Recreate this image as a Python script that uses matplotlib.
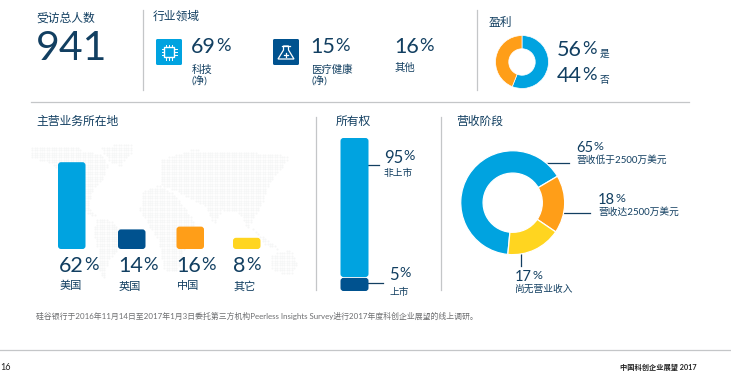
import numpy as np
import matplotlib
matplotlib.use('Agg')
import matplotlib.pyplot as plt
from matplotlib.patches import FancyBboxPatch, Rectangle, Polygon
from matplotlib.path import Path

W, H = 731, 376

total = '941'
sector_vals = [69, 15, 16]
sector_names = ['科技\n(净)', '医疗健康\n(净)', '其他']
profit_vals = [56, 44]
profit_names = ['是', '否']
location_names = ['美国', '英国', '中国', '其它']
location_vals = [62, 14, 16, 8]
owner_names = ['非上市', '上市']
owner_vals = [95, 5]
revenue_names = ['营收低于2500万美元', '营收达2500万美元', '尚无营业收入']
revenue_vals = [65, 18, 17]

BLUE = '#00a3e0'
DARK = '#00528f'
ORANGE = '#ff9e18'
YELLOW = '#ffd520'
NAVY = '#123f61'
GREY = '#c4c6c8'
FONT = ['Lato', 'Noto Sans CJK SC', 'DejaVu Sans']
plt.rcParams['font.family'] = FONT

fig = plt.figure(figsize=(W / 100, H / 100), dpi=100)


def px_axes(x0, y0, x1, y1):
    # axes placed by pixel box, y0 is the top edge
    a = fig.add_axes([x0 / W, 1 - y1 / H, (x1 - x0) / W, (y1 - y0) / H])
    a.axis('off')
    return a


ax = px_axes(0, 0, W, H)
ax.set_xlim(0, W)
ax.set_ylim(H, 0)

# faint dotted world map behind the location bars
land = [
    [(31, 147), (78, 147), (84, 152), (100, 153), (108, 165), (103, 178), (93, 190), (88, 205), (97, 218), (86, 212), (75, 200), (64, 180), (52, 163), (32, 158)],
    [(100, 147), (130, 143), (133, 152), (120, 166), (110, 162)],
    [(97, 219), (112, 220), (122, 232), (119, 248), (108, 262), (104, 280), (99, 270), (97, 245), (93, 230)],
    [(143, 190), (160, 185), (175, 195), (190, 215), (195, 225), (185, 245), (178, 270), (165, 272), (158, 240), (148, 225), (140, 210)],
    [(160, 160), (190, 150), (240, 151), (290, 156), (280, 170), (268, 185), (262, 205), (255, 215), (248, 228), (238, 212), (222, 210), (214, 225), (205, 205), (192, 200), (175, 190), (160, 185)],
    [(252, 228), (268, 240), (280, 250), (265, 245)],
    [(270, 255), (290, 250), (298, 265), (290, 275), (272, 270)],
]
gx, gy = np.meshgrid(np.arange(30, 300, 2.4), np.arange(143, 282, 2.4))
pts = np.column_stack([gx.ravel(), gy.ravel()])
mask = np.zeros(len(pts), dtype=bool)
for poly in land:
    mask |= Path(poly).contains_points(pts)
ax.scatter(pts[mask, 0], pts[mask, 1], s=2.2, color='#f5f6f6', linewidths=0, zorder=0)


def label(x, y, s, size=7.5, color=NAVY, **kw):
    return ax.text(x, y, s, fontsize=size, color=color, va=kw.pop('va', 'center'), **kw)


def pct(x, y, val, size=15.5):
    # number with the smaller, raised percent sign beside it
    t = ax.text(x, y, str(val), fontsize=size, color=NAVY, va='center', ha='left')
    ax.annotate('%', xy=(1, 0.97), xycoords=t, xytext=(0.3, 0), textcoords='offset points',
                fontsize=size * 0.85, color=NAVY, va='top', ha='left')


# rules
for x, y0, y1 in [(142.5, 10, 90), (477, 10, 90), (316, 117, 290), (441, 117, 290)]:
    ax.plot([x, x], [y0, y1], color=GREY, lw=0.9)
ax.plot([31, 689], [101.5, 101.5], color=GREY, lw=0.9)
ax.plot([0, W], [350, 350], color=GREY, lw=0.9)

# top row
label(36, 18, '受访总人数', 8.5)
label(36, 49, total, 29.5)
label(153, 16, '行业领域', 8.5)
label(489, 22, '盈利', 8.5)

ax.add_patch(FancyBboxPatch((156, 39), 26, 26, boxstyle='round,pad=0,rounding_size=1.5', fc=BLUE, ec='none'))
ax.add_patch(FancyBboxPatch((273, 39), 26, 26, boxstyle='round,pad=0,rounding_size=1.5', fc=DARK, ec='none'))
# chip icon
for k in [0, 1, 2]:
    ax.plot([161.5, 176.5], [48.8 + k * 3.2] * 2, color='white', lw=0.7, zorder=1)
    ax.plot([165.8 + k * 3.2] * 2, [44.5, 59.5], color='white', lw=0.7, zorder=1)
ax.add_patch(Rectangle((164, 47), 10, 10, fc=BLUE, ec='white', lw=1, zorder=2))
# flask icon
ax.add_patch(Polygon([(283.5, 46), (288.5, 46), (288.5, 50), (294, 59), (278, 59), (283.5, 50)], fc='none', ec='white', lw=0.9))
ax.plot([282, 290], [45.5, 45.5], color='white', lw=0.9)
ax.plot([284, 288], [54.5, 54.5], color='white', lw=0.9)
ax.plot([286, 286], [52.5, 56.5], color='white', lw=0.9)

for x, v, n in zip([191, 310, 394], sector_vals, sector_names):
    pct(x, 47, v)
    label(x + 1, 76 if '\n' in n else 68, n, 7.5, linespacing=1.15)

# profit donut
pa = px_axes(495, 35, 549, 89)
pa.pie(profit_vals, colors=[BLUE, ORANGE], startangle=90, counterclock=False, radius=1,
       wedgeprops=dict(width=0.5, ec='white', lw=0.5))
pa.set_xlim(-1.02, 1.02)
pa.set_ylim(-1.02, 1.02)
for y, v, n in zip([50, 76], profit_vals, profit_names):
    pct(557, y, v, 15.5)
    label(600, y + 4, n, 7)

# location bars
label(36, 121, '主营业务所在地', 8.5)
PX_PER_PCT = 1.4
bar_left = [58, 118, 176.5, 233]
bar_w = 27.5
ba = px_axes(50, 150, 270, 249)
ba.set_xlim(50, 270)
ba.set_ylim(0, 99 / PX_PER_PCT)
for x, v, c in zip(bar_left, location_vals, [BLUE, DARK, ORANGE, YELLOW]):
    ba.add_patch(FancyBboxPatch((x, 0), bar_w, v, boxstyle='round,pad=0,rounding_size=3',
                                mutation_aspect=1 / PX_PER_PCT, fc=c, ec='none'))
for x, v, n in zip([59, 118, 176, 233], location_vals, location_names):
    pct(x, 266, v, 15.5)
    label(x + 0.5, 286, n, 8)

# ownership stack
label(336, 121, '所有权', 8.5)
OWN_PX = 139 / owner_vals[0]
own_min = 14 / OWN_PX  # the small segment is drawn thicker than its share
oa = px_axes(335, 138, 375, 292)
oa.set_xlim(335, 375)
oa.set_ylim(154 / OWN_PX, 0)
oa.add_patch(FancyBboxPatch((340.5, 0), 28, owner_vals[0], boxstyle='round,pad=0,rounding_size=3',
                            mutation_aspect=1 / OWN_PX, fc=BLUE, ec='none'))
oa.add_patch(FancyBboxPatch((340.5, owner_vals[0] + 0.6), 28, max(owner_vals[1], own_min) - 0.6,
                            boxstyle='round,pad=0,rounding_size=3', mutation_aspect=1 / OWN_PX, fc=DARK, ec='none'))
ax.plot([358, 379], [165, 165], color=NAVY, lw=0.9, zorder=5)
ax.plot([368, 383], [283, 283], color=NAVY, lw=0.9, zorder=5)
pct(384, 158, owner_vals[0], 12)
label(384, 173, owner_names[0], 7)
pct(389, 275, owner_vals[1], 12)
label(389, 292, owner_names[1], 7)

# revenue donut
label(456, 121, '营收阶段', 8.5)
ra = px_axes(459.7, 149.7, 565.7, 255.7)
ra.pie(revenue_vals, colors=[BLUE, ORANGE, YELLOW], startangle=264.6, counterclock=False, radius=1,
       wedgeprops=dict(width=0.43, ec='white', lw=0.9))
ra.set_xlim(-1.02, 1.02)
ra.set_ylim(-1.02, 1.02)
ax.plot([534, 569], [163, 163], color=NAVY, lw=0.9, zorder=5)
ax.plot([558, 590], [213, 213], color=NAVY, lw=0.9, zorder=5)
ax.plot([521, 521], [247, 266], color=NAVY, lw=0.9, zorder=5)
for x, y, v, n in zip([576, 598, 515], [148, 200, 277], revenue_vals, revenue_names):
    pct(x, y, v, 10.5)
    label(x, y + 12.5, n, 7)

# footer
label(36, 316, '硅谷银行于2016年11月14日至2017年1月3日委托第三方机构Peerless Insights Survey进行2017年度科创企业展望的线上调研。', 5.65, color='#6d6e70')
label(0, 367, '16', 6.5, color='#222222')
label(697, 367, '中国科创企业展望 2017', 5.2, color='#222222', ha='right', fontweight='bold')

fig.savefig('out.png', dpi=100)
